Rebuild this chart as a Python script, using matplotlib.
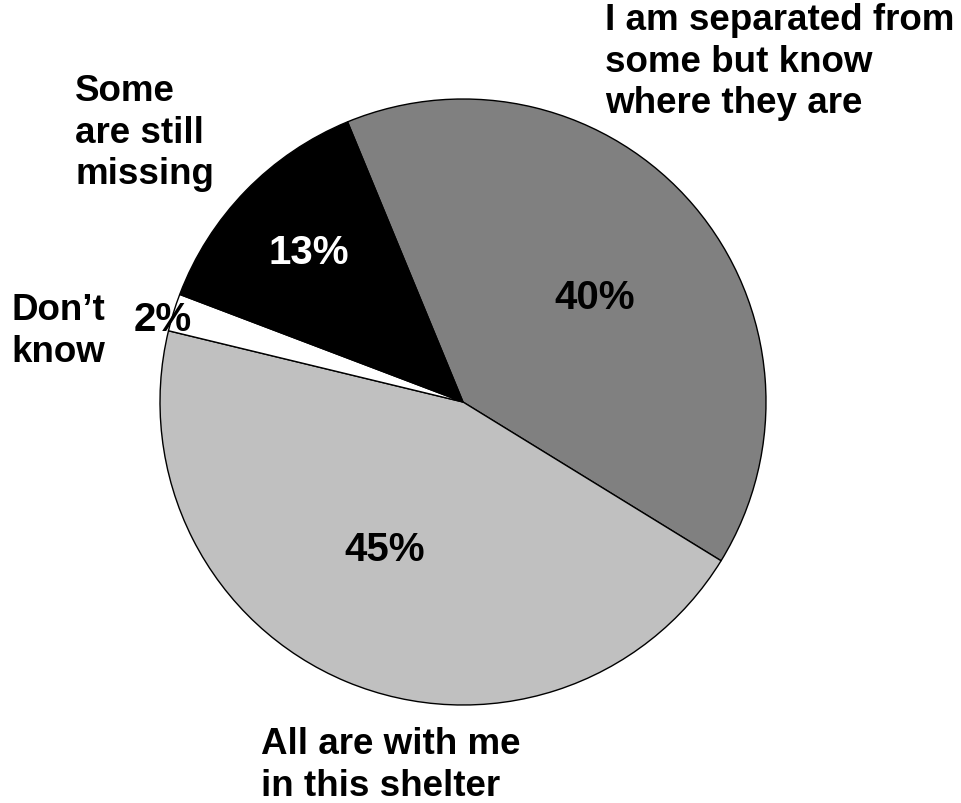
import matplotlib.pyplot as plt

plt.rcParams['font.family'] = ['Liberation Sans', 'DejaVu Sans']

# Data
labels = ["I am separated from\nsome but know\nwhere they are",
          "All are with me\nin this shelter",
          "Don\u2019t\nknow",
          "Some\nare still\nmissing"]
values = [40, 45, 2, 13]
colors = ["#808080", "#C0C0C0", "#FFFFFF", "#000000"]
pct_colors = ["black", "black", "black", "white"]

# pixel geometry of the pie in the 961x804 canvas
W, H = 961, 804
cx, cy, R = 463, 403, 303


def px(x, y):
    # pixel coords -> data coords (pie radius = 1)
    return (x - cx) / R, (cy - y) / R


fig = plt.figure(figsize=(W / 100, H / 100), dpi=100)
ax = fig.add_axes([0, 0, 1, 1])

ax.pie(values, colors=colors, startangle=112.4, counterclock=False,
       wedgeprops=dict(edgecolor="black", linewidth=1.0))

# pie() resets the limits, so set them afterwards
ax.set_xlim(-cx / R, (W - cx) / R)
ax.set_ylim((cy - H) / R, cy / R)
ax.set_aspect("equal")
ax.axis("off")

fs_lab = 26.5
fs_pct = 29
# category labels (left, top in pixels)
label_pos = [(605, 3), (261, 727), (11, 293), (75, 74)]
for lab, (x, y) in zip(labels, label_pos):
    ax.text(*px(x, y), lab, ha="left", va="top", fontsize=fs_lab,
            fontweight="bold", linespacing=1.25)

# percentage labels (centres in pixels)
pct_pos = [(595, 298), (385, 550), (163, 320), (309, 253)]
for v, (x, y), c in zip(values, pct_pos, pct_colors):
    ax.text(*px(x, y), f"{v}%", ha="center", va="center", fontsize=fs_pct,
            fontweight="bold", color=c)

fig.savefig("out.png", dpi=100)
